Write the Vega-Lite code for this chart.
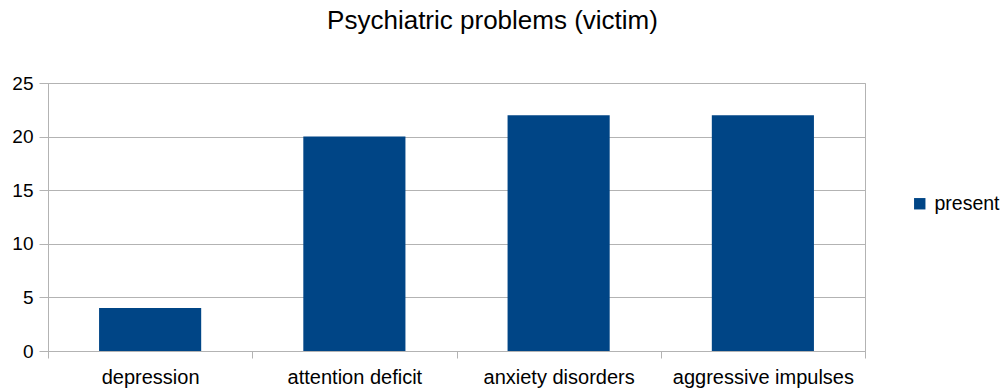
{
  "$schema": "https://vega.github.io/schema/vega-lite/v6.json",
  "autosize": {"type": "none"},
  "padding": {"left": 48, "top": 83, "right": 140, "bottom": 41},
  "width": 817,
  "height": 268,
  "background": "white",
  "title": {
    "text": "Psychiatric problems (victim)",
    "font": "Liberation Sans",
    "fontSize": 26,
    "fontWeight": "normal",
    "color": "#000000",
    "anchor": "middle",
    "frame": "group",
    "offset": 40,
    "dx": 36
  },
  "data": {
    "values": [
      {"problem": "depression", "series": "present", "count": 4},
      {"problem": "attention deficit", "series": "present", "count": 20},
      {"problem": "anxiety disorders", "series": "present", "count": 22},
      {"problem": "aggressive impulses", "series": "present", "count": 22}
    ]
  },
  "mark": {"type": "bar", "width": {"band": 0.5}},
  "encoding": {
    "x": {
      "field": "problem",
      "type": "nominal",
      "sort": null,
      "title": null,
      "scale": {"paddingInner": 0, "paddingOuter": 0},
      "axis": {
        "labelAngle": 0,
        "labelFont": "Liberation Sans",
        "labelFontSize": 20,
        "labelColor": "#000000",
        "labelPadding": 9,
        "labelLimit": 400,
        "labelOverlap": false,
        "tickBand": "extent",
        "tickColor": "#b3b3b3",
        "tickSize": 7,
        "domainColor": "#b3b3b3",
        "grid": false
      }
    },
    "y": {
      "field": "count",
      "type": "quantitative",
      "title": null,
      "scale": {"domain": [0, 25], "nice": false},
      "axis": {
        "values": [0, 5, 10, 15, 20, 25],
        "labelFont": "Liberation Sans",
        "labelFontSize": 19,
        "labelColor": "#000000",
        "labelPadding": 6,
        "tickColor": "#b3b3b3",
        "tickSize": 9,
        "domainColor": "#b3b3b3",
        "gridColor": "#b3b3b3",
        "grid": true
      }
    },
    "color": {
      "field": "series",
      "type": "nominal",
      "title": null,
      "scale": {"range": ["#004586"]},
      "legend": {
        "orient": "none",
        "legendX": 862,
        "legendY": 111,
        "symbolType": "square",
        "symbolSize": 130,
        "symbolStrokeWidth": 0,
        "labelFont": "Liberation Sans",
        "labelFontSize": 19.5,
        "labelColor": "#000000",
        "labelOffset": 5,
        "padding": 0
      }
    }
  },
  "config": {
    "view": {"stroke": "#b3b3b3"},
    "axis": {"domainWidth": 1, "gridWidth": 1, "tickWidth": 1}
  }
}
